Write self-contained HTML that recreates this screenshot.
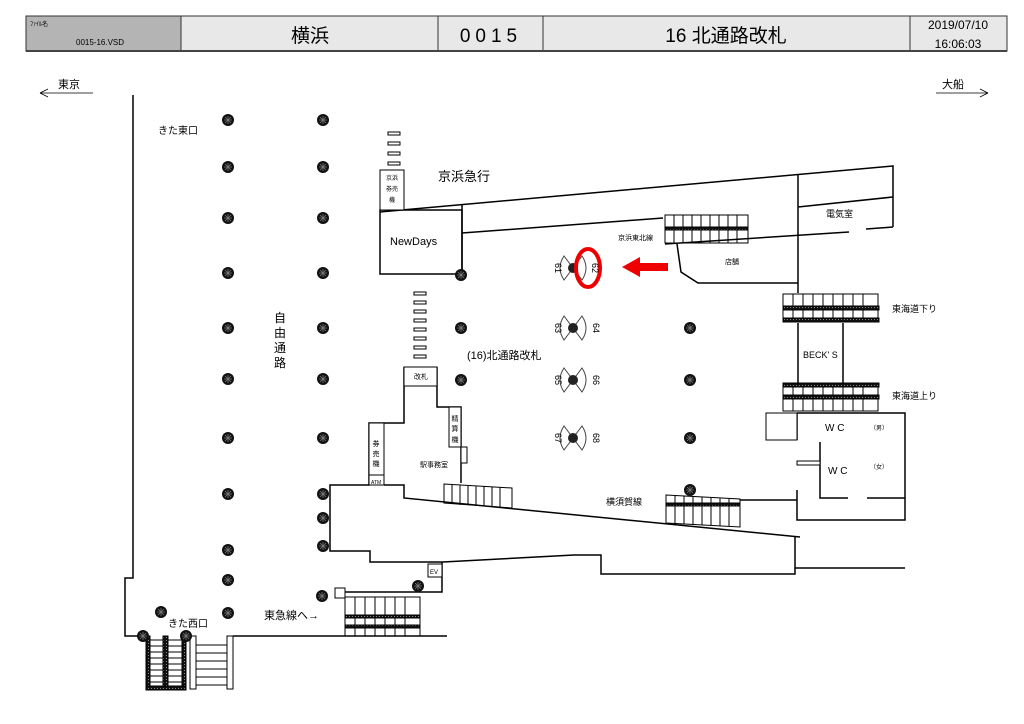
<!DOCTYPE html>
<html><head><meta charset="utf-8"><style>
html,body{margin:0;padding:0;background:#fff;}
svg{display:block;font-family:"Liberation Sans","Noto Sans CJK JP",sans-serif;}
</style></head><body>
<svg width="1024" height="724" viewBox="0 0 1024 724" xmlns="http://www.w3.org/2000/svg">
<defs>
<pattern id="pl" width="3" height="3" patternUnits="userSpaceOnUse"><rect width="3" height="3" fill="#111"/><rect x="1" y="1" width="1" height="1" fill="#888"/></pattern>
<g id="p"><circle r="6" fill="#111"/><path d="M-4 0H4M0-4V4M-3-3L3 3M3-3L-3 3" stroke="#777" stroke-width="0.8"/></g>
<g id="g"><path d="M0 0 L-9 -12 Q-17 0 -9 12 Z M0 0 L9 -12 Q17 0 9 12 Z" fill="none" stroke="#444" stroke-width="1"/><circle r="5" fill="#222"/></g>
</defs>
<!-- header -->
<rect x="26" y="16" width="981" height="35" fill="#e8e8e8" stroke="#333" stroke-width="1"/>
<rect x="26" y="16" width="155" height="35" fill="#b4b4b4" stroke="#333"/>
<path d="M438 16V51M543 16V51M910 16V51" stroke="#333"/>
<line x1="26" y1="51" x2="1007" y2="51" stroke="#444" stroke-width="2"/>
<text x="30" y="26" font-size="6">ﾌｧｲﾙ名</text>
<text x="76" y="45" font-size="8">0015-16.VSD</text>
<text x="310" y="42" font-size="19" text-anchor="middle">横浜</text>
<text x="491" y="42" font-size="19" text-anchor="middle" letter-spacing="5">0015</text>
<text x="726" y="42" font-size="19" text-anchor="middle">16 北通路改札</text>
<text x="958" y="29" font-size="12" text-anchor="middle">2019/07/10</text>
<text x="958" y="48" font-size="12" text-anchor="middle">16:06:03</text>
<!-- direction -->
<text x="58" y="88" font-size="11">東京</text>
<path d="M40 93H93M40 93l8-4M40 93l8 4" stroke="#000" fill="none" stroke-width="0.8"/>
<text x="942" y="88" font-size="11">大船</text>
<path d="M936 93H988M988 93l-8-4M988 93l-8 4" stroke="#000" fill="none" stroke-width="0.8"/>
<g stroke="#000" fill="none" stroke-width="1.5">
<path d="M133 95V578H125V636H146M233 636H447"/>
<path d="M380 212L893 166V227M462 233L663 218M665 244L849 232M866 229L893 227M798 175V293M798 207L893 197"/>
<rect x="380" y="210" width="82" height="64"/>
<path d="M462 205V274"/>
<path d="M677 244L681 272L698 283H798"/>
<path d="M404 367V423H369V485H330V551H370V562H443L574 555H601V574H795V537"/>
<path d="M437 367V407H461V483"/>
<path d="M384 485H404V498L800 537"/>
<path d="M442 562V592H345"/>
<path d="M798 323V383M843 323V383"/>
<path d="M797 413H905V520H797V490M797 440V413M820 442V498H848M867 498H905M795 568H905"/>
<path d="M740 500H797"/>
</g>
<g stroke="#000" fill="#fff" stroke-width="1">
<rect x="380" y="170" width="24" height="40"/>
<rect x="404" y="367" width="33" height="19"/>
<rect x="449" y="407" width="12" height="40"/>
<rect x="461" y="447" width="6" height="16"/>
<rect x="369" y="423" width="15" height="62"/>
<rect x="369" y="475" width="15" height="10"/>
<rect x="428" y="564" width="14" height="13"/>
<rect x="335" y="588" width="10" height="10"/>
<rect x="766" y="413" width="31" height="27"/>
<rect x="797" y="461" width="23" height="4"/>
<rect x="388" y="132" width="12" height="3"/><rect x="388" y="142" width="12" height="3"/><rect x="388" y="152" width="12" height="3"/><rect x="388" y="162" width="12" height="3"/>
<rect x="414" y="292" width="12" height="3"/><rect x="414" y="301" width="12" height="3"/><rect x="414" y="310" width="12" height="3"/><rect x="414" y="319" width="12" height="3"/><rect x="414" y="328" width="12" height="3"/><rect x="414" y="337" width="12" height="3"/><rect x="414" y="346" width="12" height="3"/><rect x="414" y="355" width="12" height="3"/>
</g>
<g stroke="#000" fill="none" stroke-width="1">
<path d="M665 215H748V243H665Z M665 228H748"/>
<path d="M674 215V243M683 215V243M692 215V243M701 215V243M710 215V243M719 215V243M728 215V243M737 215V243"/>
<rect x="665" y="227" width="83" height="3" fill="url(#pl)"/>
<path d="M783 294H878V322H783Z M793 294V322M803 294V322M813 294V322M823 294V322M833 294V322M843 294V322M853 294V322M863 294V322"/>
<rect x="783" y="306" width="96" height="4" fill="url(#pl)"/><rect x="783" y="318" width="96" height="4" fill="url(#pl)"/>
<path d="M783 383H878V411H783Z M793 383V411M803 383V411M813 383V411M823 383V411M833 383V411M843 383V411M853 383V411M863 383V411"/>
<rect x="783" y="383" width="96" height="4" fill="url(#pl)"/><rect x="783" y="395" width="96" height="4" fill="url(#pl)"/>
<path d="M444 484L512 488V508L444 503Z M452 484V504M460 485V505M468 485V505M476 486V506M484 486V506M492 487V507M500 487V507"/>
<path d="M666 495L740 499V527L666 523Z M675 496V523M684 496V524M693 497V524M702 497V525M711 498V525M720 498V526M729 499V526"/>
<rect x="666" y="503" width="74" height="3" fill="url(#pl)"/>
<path d="M345 597H420V636H345Z M355 597V636M365 597V636M375 597V636M385 597V636M395 597V636M405 597V636"/>
<rect x="345" y="615" width="75" height="3" fill="url(#pl)"/><rect x="345" y="625" width="75" height="3" fill="url(#pl)"/>
<path d="M146 640H185M146 646H185M146 652H185M146 658H185M146 664H185M146 670H185M146 676H185M146 682H185"/>
<rect x="146" y="636" width="4" height="53" fill="url(#pl)"/><rect x="163" y="636" width="5" height="53" fill="url(#pl)"/><rect x="182" y="636" width="4" height="53" fill="url(#pl)"/><rect x="146" y="686" width="40" height="4" fill="url(#pl)"/>
<rect x="190" y="636" width="6" height="53"/><rect x="227" y="636" width="6" height="53"/>
<path d="M196 645H227M196 653H227M196 661H227M196 669H227M196 677H227M196 685H227"/>
</g>
<g>
<use href="#p" x="228" y="120"/><use href="#p" x="228" y="167"/><use href="#p" x="228" y="218"/><use href="#p" x="228" y="273"/><use href="#p" x="228" y="328"/><use href="#p" x="228" y="379"/><use href="#p" x="228" y="438"/><use href="#p" x="228" y="494"/><use href="#p" x="228" y="550"/><use href="#p" x="228" y="580"/><use href="#p" x="228" y="613"/>
<use href="#p" x="323" y="120"/><use href="#p" x="323" y="167"/><use href="#p" x="323" y="218"/><use href="#p" x="323" y="273"/><use href="#p" x="323" y="328"/><use href="#p" x="323" y="379"/><use href="#p" x="323" y="438"/><use href="#p" x="323" y="494"/><use href="#p" x="323" y="518"/><use href="#p" x="323" y="546"/><use href="#p" x="322" y="596"/>
<use href="#p" x="461" y="275"/><use href="#p" x="461" y="328"/><use href="#p" x="461" y="380"/>
<use href="#p" x="690" y="328"/><use href="#p" x="690" y="380"/><use href="#p" x="690" y="438"/><use href="#p" x="690" y="490"/>
<use href="#p" x="418" y="586"/><use href="#p" x="161" y="612"/><use href="#p" x="143" y="636"/><use href="#p" x="186" y="636"/>
</g>
<use href="#g" x="573" y="268"/><use href="#g" x="573" y="328"/><use href="#g" x="573" y="380"/><use href="#g" x="573" y="438"/>
<ellipse cx="588" cy="268" rx="12" ry="19" fill="none" stroke="#e00" stroke-width="4"/>
<path d="M668 263H640V257L622 267L640 277V271H668Z" fill="#e00"/>
<g font-size="9" fill="#000">
<text x="555" y="268" transform="rotate(90 555 268)" text-anchor="middle">61</text>
<text x="592" y="268" transform="rotate(90 592 268)" text-anchor="middle">62</text>
<text x="555" y="328" transform="rotate(90 555 328)" text-anchor="middle">63</text>
<text x="593" y="328" transform="rotate(90 593 328)" text-anchor="middle">64</text>
<text x="555" y="380" transform="rotate(90 555 380)" text-anchor="middle">65</text>
<text x="593" y="380" transform="rotate(90 593 380)" text-anchor="middle">66</text>
<text x="555" y="438" transform="rotate(90 555 438)" text-anchor="middle">67</text>
<text x="593" y="438" transform="rotate(90 593 438)" text-anchor="middle">68</text>
</g>
<text x="158" y="134" font-size="10">きた東口</text>
<text x="274" y="322" font-size="12">自</text><text x="274" y="337" font-size="12">由</text><text x="274" y="352" font-size="12">通</text><text x="274" y="367" font-size="12">路</text>
<text x="438" y="181" font-size="13">京浜急行</text>
<text x="390" y="245" font-size="11">NewDays</text>
<text x="392" y="180" font-size="6" text-anchor="middle">京浜</text><text x="392" y="191" font-size="6" text-anchor="middle">券売</text><text x="392" y="202" font-size="6" text-anchor="middle">機</text>
<text x="618" y="240" font-size="7">京浜東北線</text>
<text x="725" y="264" font-size="7">店舗</text>
<text x="826" y="217" font-size="9">電気室</text>
<text x="892" y="312" font-size="9">東海道下り</text>
<text x="892" y="399" font-size="9">東海道上り</text>
<text x="803" y="358" font-size="9">BECK' S</text>
<text x="825" y="431" font-size="10">W C</text><text x="870" y="430" font-size="6">（男）</text>
<text x="828" y="474" font-size="10">W C</text><text x="870" y="469" font-size="6">（女）</text>
<text x="467" y="359" font-size="11">(16)北通路改札</text>
<text x="414" y="379" font-size="7">改札</text>
<text x="455" y="421" font-size="7" text-anchor="middle">精</text><text x="455" y="431" font-size="7" text-anchor="middle">算</text><text x="455" y="442" font-size="7" text-anchor="middle">機</text>
<text x="376" y="446" font-size="7" text-anchor="middle">券</text><text x="376" y="456" font-size="7" text-anchor="middle">売</text><text x="376" y="466" font-size="7" text-anchor="middle">機</text>
<text x="371" y="484" font-size="5">ATM</text>
<text x="420" y="467" font-size="7">駅事務室</text>
<text x="606" y="505" font-size="9">横須賀線</text>
<text x="430" y="574" font-size="6">EV</text>
<text x="264" y="619" font-size="11">東急線へ→</text>
<text x="168" y="627" font-size="10">きた西口</text>
</svg>
</body></html>
